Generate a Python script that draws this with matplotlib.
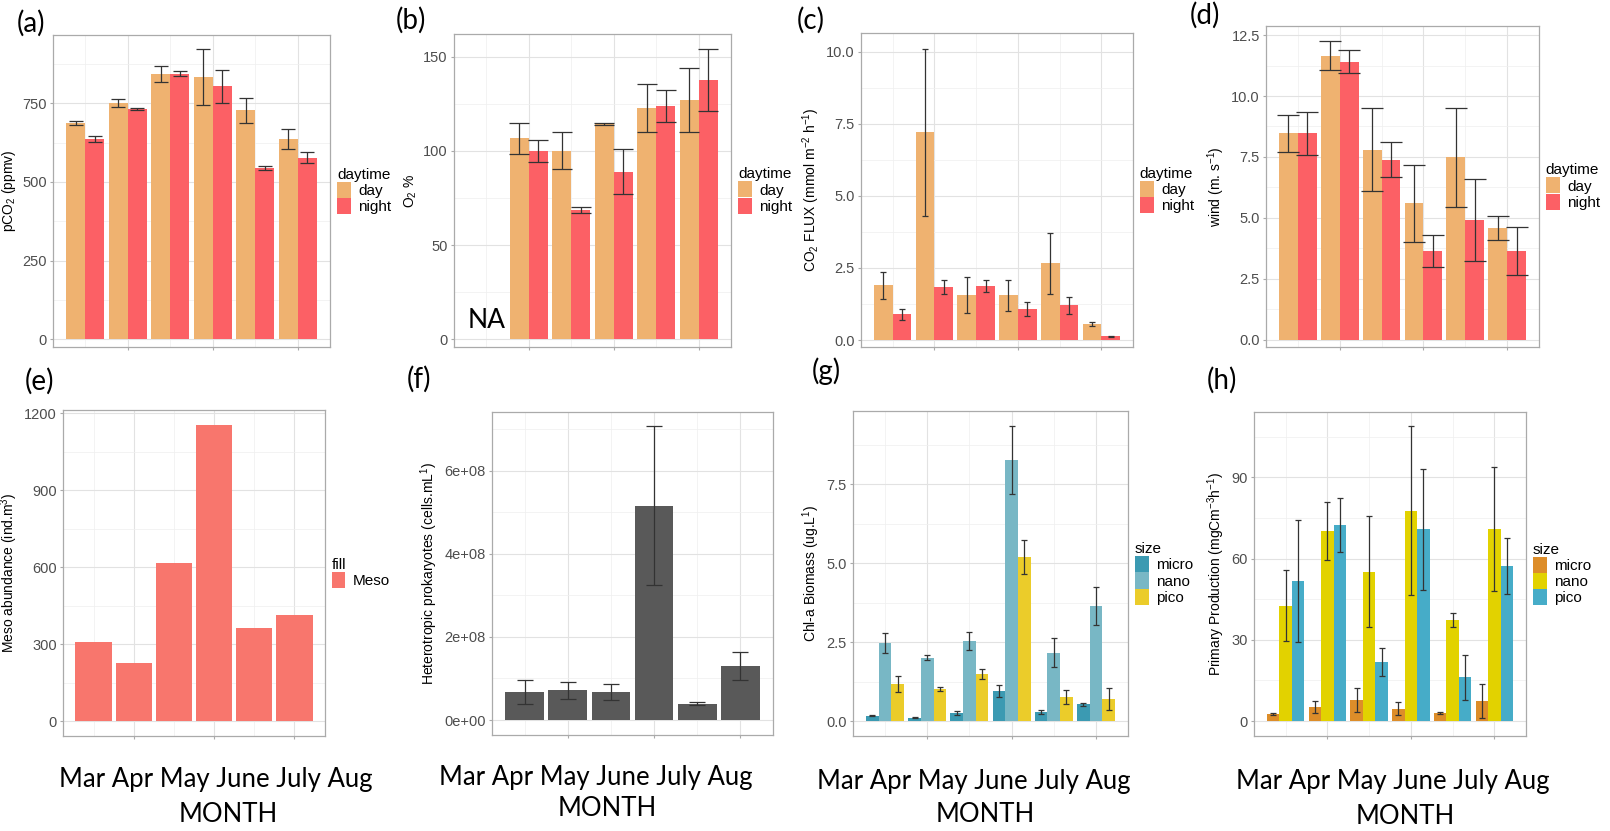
import numpy as np
import matplotlib
matplotlib.use("Agg")
import matplotlib.pyplot as plt
from matplotlib.patches import Patch

plt.rcParams['font.family'] = ['Liberation Sans', 'DejaVu Sans']
plt.rcParams['mathtext.default'] = 'regular'

months = ["Mar", "Apr", "May", "June", "July", "Aug"]
daytime = ["day", "night"]
sizes = ["micro", "nano", "pico"]

# (a) pCO2
pco2_day = [688, 750, 843, 833, 727, 637]
pco2_day_err = [7, 12, 26, 88, 40, 31]
pco2_night = [637, 731, 844, 804, 545, 577]
pco2_night_err = [10, 3, 7, 52, 7, 18]

# (b) O2 %  (no data in March)
o2_day = [np.nan, 106.6, 100.2, 114.2, 122.8, 127.2]
o2_day_err = [np.nan, 8, 10, 0.6, 12.6, 17]
o2_night = [np.nan, 100, 68.6, 88.9, 123.9, 137.5]
o2_night_err = [np.nan, 6, 1.5, 12, 8.4, 16.5]

# (c) CO2 flux
flux_day = [1.90, 7.21, 1.57, 1.55, 2.66, 0.55]
flux_day_err = [0.46, 2.9, 0.63, 0.54, 1.07, 0.07]
flux_night = [0.89, 1.85, 1.87, 1.08, 1.20, 0.13]
flux_night_err = [0.19, 0.25, 0.2, 0.25, 0.31, 0.01]

# (d) wind
wind_day = [8.47, 11.65, 7.80, 5.60, 7.49, 4.58]
wind_day_err = [0.77, 0.59, 1.71, 1.58, 2.02, 0.5]
wind_night = [8.47, 11.41, 7.39, 3.65, 4.92, 3.65]
wind_night_err = [0.89, 0.46, 0.73, 0.64, 1.67, 1.0]

# (e) mesozooplankton
meso = [307, 225, 615, 1153, 363, 415]

# (f) heterotrophic prokaryotes
hprok = [0.674e8, 0.714e8, 0.674e8, 5.157e8, 0.393e8, 1.307e8]
hprok_err = [0.29e8, 0.2e8, 0.19e8, 1.92e8, 0.03e8, 0.34e8]
hprok_ticklabels = ["0e+00", "2e+08", "4e+08", "6e+08"]

# (g) Chl-a by size
chl = {
    "micro": [0.17, 0.11, 0.26, 0.95, 0.30, 0.53],
    "nano": [2.47, 2.01, 2.54, 8.28, 2.17, 3.65],
    "pico": [1.17, 1.01, 1.49, 5.19, 0.76, 0.70],
}
chl_err = {
    "micro": [0.02, 0.01, 0.05, 0.2, 0.06, 0.06],
    "nano": [0.31, 0.07, 0.28, 1.08, 0.47, 0.6],
    "pico": [0.25, 0.07, 0.17, 0.54, 0.23, 0.35],
}

# (h) primary production by size
pp = {
    "micro": [2.6, 5.3, 7.8, 4.6, 3.1, 7.4],
    "nano": [42.6, 70.3, 55.2, 77.6, 37.3, 71.0],
    "pico": [51.8, 72.4, 21.8, 70.8, 16.1, 57.3],
}
pp_err = {
    "micro": [0.3, 2.2, 4.4, 2.3, 0.4, 6.2],
    "nano": [13.1, 10.7, 20.6, 31.2, 2.7, 22.8],
    "pico": [22.5, 10.0, 5.1, 22.4, 8.3, 10.3],
}

col_day = "#EFB270"
col_night = "#FC6065"
chl_cols = ["#3B9AB2", "#78B7C5", "#EBCC2A"]
pp_cols = ["#DD8D29", "#E2D200", "#46ACC8"]

W, H = 1610, 831
fig = plt.figure(figsize=(W / 100, H / 100), dpi=100)


def add_ax(x0, y0, x1, y1):
    return fig.add_axes([x0 / W, 1 - y1 / H, (x1 - x0) / W, (y1 - y0) / H])


def style(ax, ylim, yticks, yminor, ylabel):
    ax.set_xlim(-0.76, 5.76)
    ax.set_ylim(*ylim)
    ax.set_xticks([1, 3, 5])
    ax.set_xticklabels([])
    ax.set_xticks([0, 2, 4], minor=True)
    ax.set_yticks(yticks)
    ax.set_yticks(yminor, minor=True)
    ax.grid(which='major', color='#E2E2E2', lw=0.8)
    ax.grid(which='minor', color='#EFEFEF', lw=0.5)
    ax.set_axisbelow(True)
    for s in ax.spines.values():
        s.set_color('#AAAAAA')
        s.set_linewidth(0.9)
    ax.tick_params(which='major', length=2.5, color='#AAAAAA', labelsize=10.5,
                   labelcolor='#4D4D4D', pad=2)
    ax.tick_params(which='minor', length=0)
    ax.set_ylabel(ylabel, fontsize=10, labelpad=3)


def grouped(ax, series, errs, colors, capsize):
    n = len(series)
    w = 0.9 / n
    x = np.arange(len(months))
    for i, (vals, err, c) in enumerate(zip(series, errs, colors)):
        xi = x + (i - (n - 1) / 2) * w
        ax.bar(xi, vals, width=w, color=c, edgecolor='none')
        ax.errorbar(xi, vals, yerr=err, fmt='none', ecolor='#333333',
                    elinewidth=0.9, capsize=capsize, capthick=0.9)


def legend(ax, labels, colors, title):
    handles = [Patch(facecolor=c, edgecolor='none') for c in colors]
    ax.legend(handles, labels, title=title, loc='center left',
              bbox_to_anchor=(1.025, 0.5), frameon=False, fontsize=11,
              title_fontsize=11, handlelength=0.9, handleheight=1.25,
              handletextpad=0.5, labelspacing=0.0, alignment='left',
              borderaxespad=0, borderpad=0)


# (a)
ax = add_ax(53, 35, 330, 347)
grouped(ax, [pco2_day, pco2_night], [pco2_day_err, pco2_night_err],
        [col_day, col_night], 5)
style(ax, (-25, 967), [0, 250, 500, 750], [125, 375, 625, 875],
      'pCO$_2$ (ppmv)')
legend(ax, daytime, [col_day, col_night], 'daytime')

# (b)
ax = add_ax(454, 34, 731, 347)
grouped(ax, [o2_day, o2_night], [o2_day_err, o2_night_err],
        [col_day, col_night], 7)
style(ax, (-4, 162), [0, 50, 100, 150], [25, 75, 125], 'O$_2$ %')
legend(ax, daytime, [col_day, col_night], 'daytime')
ax.text(0, 10, "NA", family='Lato', fontsize=19, ha='center', va='center')

# (c)
ax = add_ax(861, 33, 1133, 347)
grouped(ax, [flux_day, flux_night], [flux_day_err, flux_night_err],
        [col_day, col_night], 2)
style(ax, (-0.24, 10.65), [0, 2.5, 5, 7.5, 10], [1.25, 3.75, 6.25, 8.75],
      'CO$_2$ FLUX (mmol m$^{-2}$ h$^{-1}$)')
ax.yaxis.set_major_formatter(matplotlib.ticker.FormatStrFormatter('%.1f'))
legend(ax, daytime, [col_day, col_night], 'daytime')

# (d)
ax = add_ax(1266, 26, 1539, 347)
grouped(ax, [wind_day, wind_night], [wind_day_err, wind_night_err],
        [col_day, col_night], 8)
style(ax, (-0.29, 12.87), [0, 2.5, 5, 7.5, 10, 12.5],
      [1.25, 3.75, 6.25, 8.75, 11.25], 'wind (m. s$^{-1}$)')
ax.yaxis.set_major_formatter(matplotlib.ticker.FormatStrFormatter('%.1f'))
legend(ax, daytime, [col_day, col_night], 'daytime')

# (e)
ax = add_ax(63, 410, 325, 736)
ax.bar(np.arange(len(months)), meso, width=0.9, color='#F8766D')
style(ax, (-58, 1213), [0, 300, 600, 900, 1200], [150, 450, 750, 1050],
      'Meso abundance (ind.m$^{3}$)')
legend(ax, ["Meso"], ['#F8766D'], 'fill')

# (f)
ax = add_ax(492, 412, 773, 735)
ax.bar(np.arange(len(months)), hprok, width=0.9, color='#595959')
ax.errorbar(np.arange(len(months)), hprok, yerr=hprok_err, fmt='none',
            ecolor='#333333', elinewidth=0.9, capsize=6, capthick=0.9)
style(ax, (-0.36e8, 7.41e8), [0, 2e8, 4e8, 6e8], [1e8, 3e8, 5e8, 7e8],
      'Heterotropic prokaryotes (cells.mL$^{1}$)')
ax.set_yticklabels(hprok_ticklabels)

# (g)
ax = add_ax(853, 411, 1128, 736)
grouped(ax, [chl[s] for s in sizes], [chl_err[s] for s in sizes],
        chl_cols, 2)
style(ax, (-0.47, 9.82), [0, 2.5, 5, 7.5], [1.25, 3.75, 6.25, 8.75],
      'Chl-a Biomass (ug.L$^{1}$)')
ax.yaxis.set_major_formatter(matplotlib.ticker.FormatStrFormatter('%.1f'))
legend(ax, sizes, chl_cols, 'size')

# (h)
ax = add_ax(1254, 412, 1526, 736)
grouped(ax, [pp[s] for s in sizes], [pp_err[s] for s in sizes],
        pp_cols, 2)
style(ax, (-5.5, 114.1), [0, 30, 60, 90], [15, 45, 75, 105],
      'Primary Production (mgCm$^{-3}$h$^{-1}$)')
legend(ax, sizes, pp_cols, 'size')

# panel letters
letters = ["(a)", "(b)", "(c)", "(d)", "(e)", "(f)", "(g)", "(h)"]
letter_pos = [(17, 23), (396, 20), (797, 20), (1190, 15),
              (25, 381), (407, 379), (812, 371), (1207, 380)]
for t, (px, py) in zip(letters, letter_pos):
    fig.text(px / W, 1 - py / H, t, family='Lato', fontsize=20,
             ha='left', va='center')

# month strip and axis title under bottom row
month_text = " ".join(months)
strip_pos = [(216, 780, 228, 815), (596, 778, 607, 808),
             (974, 781, 985, 815), (1393, 782, 1405, 817)]
for mx, my, tx, ty in strip_pos:
    fig.text(mx / W, 1 - my / H, month_text, family='Lato', fontsize=18.5,
             ha='center', va='center')
    fig.text(tx / W, 1 - ty / H, "MONTH", family='Lato', fontsize=18.5,
             ha='center', va='center')

fig.savefig("out.png", dpi=100)
